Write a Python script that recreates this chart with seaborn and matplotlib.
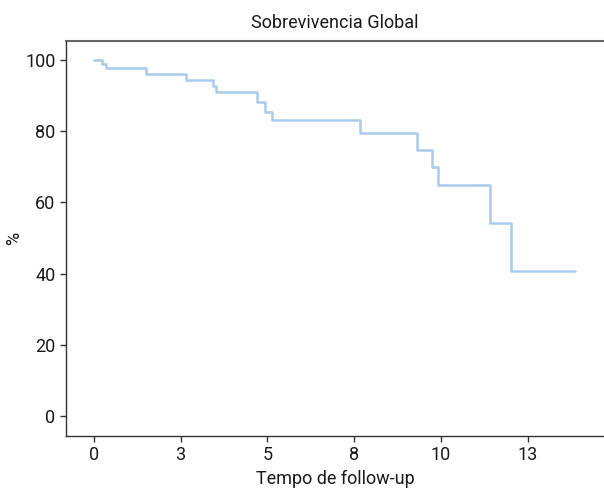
import matplotlib
matplotlib.use("Agg")
import matplotlib.pyplot as plt
from matplotlib import font_manager
import numpy as np
import pandas as pd
import seaborn as sns

# Overall survival (Kaplan-Meier style step curve)
tempo = [0.0, 0.24, 0.36, 1.56, 2.75, 3.56, 3.66, 4.90, 5.12, 5.33,
         7.97, 9.69, 10.14, 10.32, 11.87, 12.49, 14.41]
sobrevivencia = [100.0, 98.9, 97.6, 96.0, 94.4, 92.6, 90.9, 88.2, 85.5, 83.0,
                 79.4, 74.7, 70.0, 64.8, 54.1, 40.8, 40.8]

x_ticks = [0.0, 2.6, 5.2, 7.8, 10.4, 13.0]
x_tick_labels = ["0", "3", "5", "8", "10", "13"]
y_ticks = [0, 20, 40, 60, 80, 100]

sns.set_theme(style="white")
installed = {f.name for f in font_manager.fontManager.ttflist}
families = [f for f in ["Liberation Sans Narrow", "Roboto", "DejaVu Sans"] if f in installed]
plt.rcParams["font.family"] = families

df = pd.DataFrame({"tempo": tempo, "sobrevivencia": sobrevivencia})

fig = plt.figure(figsize=(6.04, 4.93), dpi=100)
ax = fig.add_axes([66 / 604, 1 - 436 / 493, 1 - 66 / 604, (436 - 40.7) / 493])

sns.lineplot(data=df, x="tempo", y="sobrevivencia", ax=ax, estimator=None,
             sort=False, drawstyle="steps-post", color="#A9CBEC", linewidth=1.8)

ax.set_xlim(-0.83, 15.28)
ax.set_ylim(-5.6, 105.4)
ax.set_xticks(x_ticks)
ax.set_xticklabels(x_tick_labels)
ax.set_yticks(y_ticks)

for side in ["left", "bottom", "top"]:
    ax.spines[side].set_visible(True)
    ax.spines[side].set_color("#333333")
    ax.spines[side].set_linewidth(1.0)
ax.spines["top"].set_color("#666666")
ax.spines["top"].set_linewidth(1.5)
ax.spines["right"].set_visible(False)

ax.tick_params(axis="both", which="major", length=4.5, width=1.0,
               color="#333333", labelsize=13, labelcolor="#1a1a1a",
               bottom=True, left=True, pad=3)

ax.set_title("Sobrevivencia Global", fontsize=13, color="#1a1a1a", pad=9)
ax.set_xlabel("Tempo de follow-up", fontsize=13, color="#1a1a1a", labelpad=4)
ax.set_ylabel("%", fontsize=13, color="#1a1a1a")
ax.yaxis.set_label_coords(-0.08, 0.5)

fig.savefig("out.png", dpi=100)
